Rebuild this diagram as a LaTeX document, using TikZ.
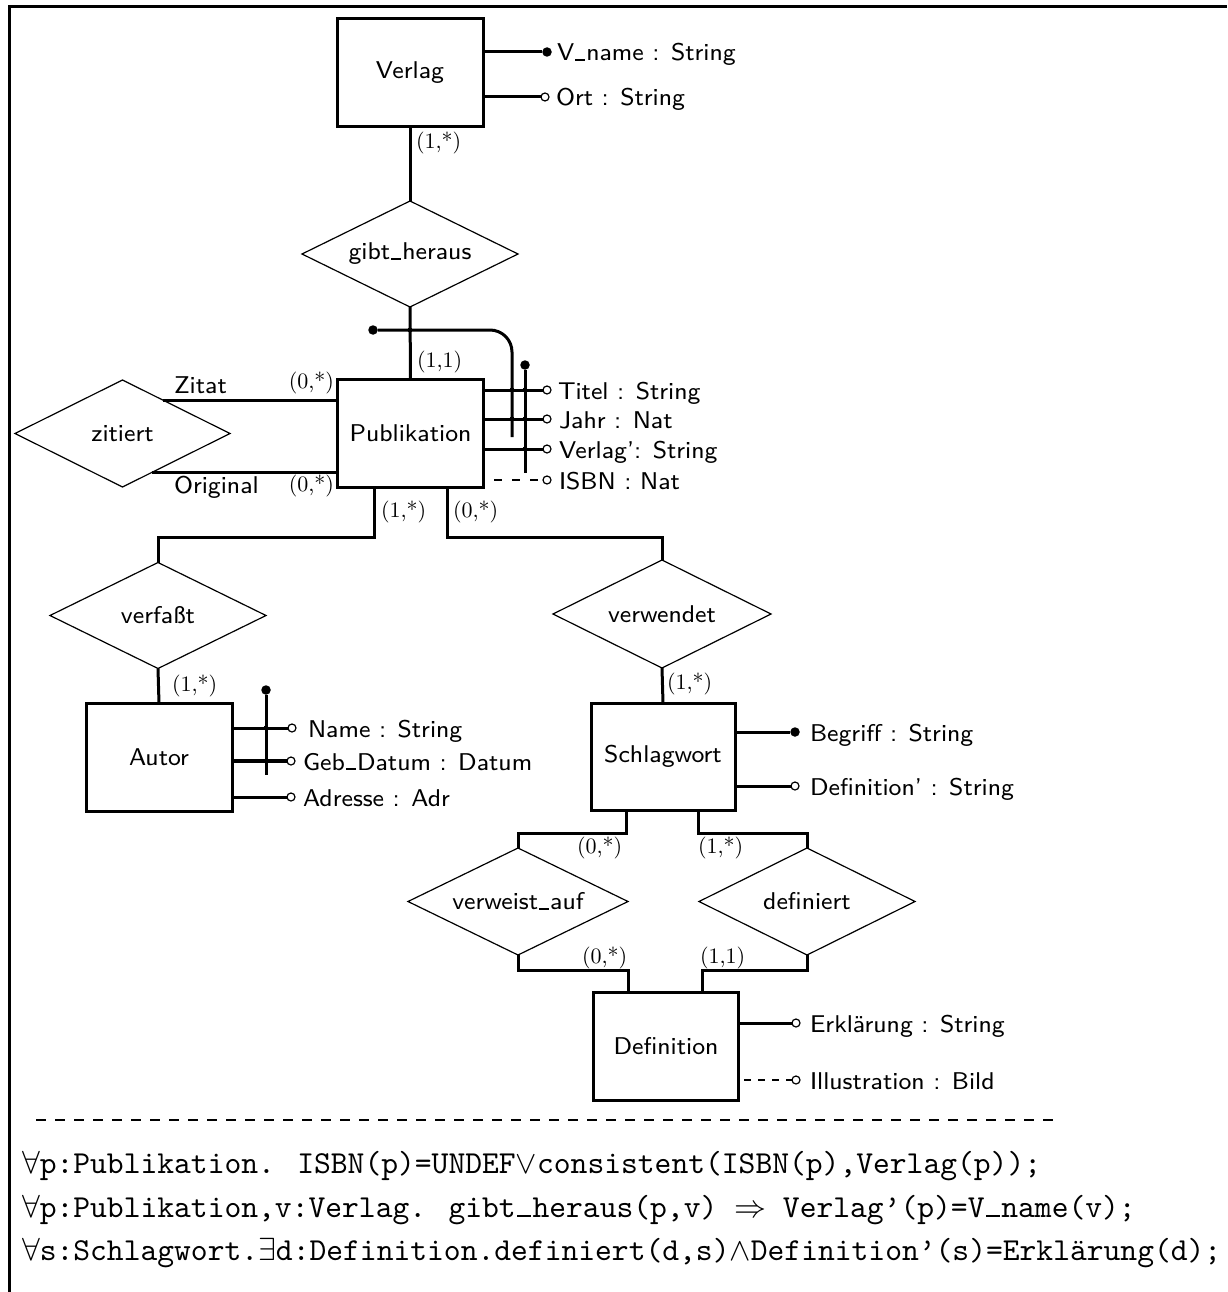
\documentclass[tikz,border=0pt]{standalone}
\usepackage{graphicx}
\usetikzlibrary{shapes.geometric,calc}
\newcommand\sstx[1]{\scalebox{3.03}{\fontsize{8}{9.6}\selectfont\sffamily #1}}
\newcommand\cdtx[1]{\scalebox{2.2}{\fontsize{10}{12}\selectfont\rmfamily #1}}
\newcommand\tttx[1]{\scalebox{3.2}{\fontsize{10}{12}\selectfont\ttfamily #1}}
\newcommand\usc{\leavevmode\kern.04em\rule{.42em}{.6pt}\kern.04em}
\newcommand\tusc{\makebox[.525em]{\rule{.42em}{.55pt}}}
\tikzset{
  every node/.style={outer sep=0pt},
  entity/.style={draw,line width=3pt,rectangle,minimum width=146pt,minimum height=108pt,inner sep=0pt},
  rel/.style={draw,shape=diamond,aspect=2,line width=1.2pt,inner sep=0pt,minimum width=216pt,minimum height=107pt},
  conn/.style={line width=3pt},
  card/.style={inner sep=0pt,anchor=west},
  attr/.style={inner sep=0pt,anchor=base west},
  keydot/.style={fill=black,circle,inner sep=0pt,minimum size=9.5pt},
  optdot/.style={draw,fill=white,circle,inner sep=0pt,minimum size=8pt,line width=1.2pt},
  jdot/.style={fill=black,circle,inner sep=0pt,minimum size=5pt},
  optline/.style={line width=2pt,dash pattern=on 8pt off 10pt},
  formula/.style={inner sep=0pt,anchor=base west},
}
\begin{document}
\begin{tikzpicture}[x=1pt,y=-1pt]
\useasboundingbox (0,0) rectangle (1227,1292);
% frame
\draw[line width=3pt] (9.5,1292) -- (9.5,6.7) -- (1227,6.7);

% entities
\node[entity] (Verlag) at (410,72.5) {\sstx{Verlag}};
\node[entity] (Publikation) at (410.5,433.5) {\sstx{Publikation}};
\node[entity] (Autor) at (159,757.5) {\sstx{Autor}};
\node[entity,minimum width=144pt,minimum height=107pt] (Schlagwort) at (663,756.5) {\sstx{Schlagwort}};
\node[entity,minimum width=145pt] (Definition) at (666,1046) {\sstx{Definition}};

% relationships
\node[rel,minimum height=106pt] (gibt) at (410,254) {\sstx{gibt\usc heraus}};
\node[rel,minimum width=215pt] (zitiert) at (122.5,433.5) {\sstx{zitiert}};
\node[rel,minimum height=106pt] (verfasst) at (158,615.5) {\sstx{verfaßt}};
\node[rel,minimum width=218pt,minimum height=108pt] (verwendet) at (662,614) {\sstx{verwendet}};
\node[rel,minimum width=220pt] (verweist) at (518,901.5) {\sstx{verweist\usc auf}};
\node[rel] (definiert) at (807,901.5) {\sstx{definiert}};

% connectors
\draw[conn] (Verlag.south) -- (gibt.north);
\draw[conn] (gibt.south) -- (Publikation.north);
\coordinate (zt) at ($(zitiert.north)!0.38!(zitiert.east)$);
\coordinate (zo) at ($(zitiert.south)!0.27!(zitiert.east)$);
\draw[conn] (zt) -- (zt -| Publikation.west);
\draw[conn] (zo) -- (zo -| Publikation.west);
\draw[conn] ($(Publikation.south)+(-36.5,0)$) -- ++(0,50) -| (verfasst.north);
\draw[conn] ($(Publikation.south)+(36.5,0)$) -- ++(0,50) -| (verwendet.north);
\draw[conn] (verfasst.south) -- (Autor.north);
\draw[conn] (verwendet.south) -- (Schlagwort.north);
\draw[conn] ($(Schlagwort.south)+(-37,0)$) -- ++(0,23) -| (verweist.north);
\draw[conn] ($(Schlagwort.south)+(35,0)$) -- ++(0,23) -| (definiert.north);
\draw[conn] (verweist.south) -- ++(0,15) -| ($(Definition.north)+(-37.5,0)$);
\draw[conn] (definiert.south) -- ++(0,15) -| ($(Definition.north)+(36,0)$);

% labels
\node[attr] (lzitat) at (174,393) {\sstx{Zitat}};
\node[attr] (lorig) at (174,493) {\sstx{Original}};
\node[card] (c1) at (416,143) {\cdtx{(1,*)}};
\node[card] (c2) at (417,362) {\cdtx{(1,1)}};
\node[card,anchor=east] (c3) at (334,383) {\cdtx{(0,*)}};
\node[card,anchor=east] (c4) at (334,486) {\cdtx{(0,*)}};
\node[card] (c5) at (381,512) {\cdtx{(1,*)}};
\node[card] (c6) at (453,512) {\cdtx{(0,*)}};
\node[card] (c7) at (172,686) {\cdtx{(1,*)}};
\node[card] (c8) at (667,684) {\cdtx{(1,*)}};
\node[card] (c9) at (577,848) {\cdtx{(0,*)}};
\node[card] (c10) at (698,848) {\cdtx{(1,*)}};
\node[card] (c11) at (582,958) {\cdtx{(0,*)}};
\node[card] (c12) at (700,958) {\cdtx{(1,1)}};

% Verlag attributes
\node[keydot] (vn) at (547,52) {};
\node[attr] (vnt) at (557,61) {\sstx{V\usc name : String}};
\draw[conn] (Verlag.east |- vn) -- (vn);
\node[optdot] (ort) at (545,97) {};
\node[attr] (ortt) at (556,106) {\sstx{Ort : String}};
\draw[conn] (Verlag.east |- ort) -- (ort.west);

% Publikation attributes
\node[optdot] (ti) at (547,390) {};
\node[attr] (tit) at (558,399) {\sstx{Titel : String}};
\node[optdot] (ja) at (547,419) {};
\node[attr] (jat) at (559,428) {\sstx{Jahr : Nat}};
\node[optdot] (vs) at (547,449) {};
\node[attr] (vst) at (559,458) {\sstx{Verlag': String}};
\node[optdot] (is) at (547,480) {};
\node[attr] (ist) at (559,489) {\sstx{ISBN : Nat}};
\draw[conn] (Publikation.east |- ti) -- (ti.west);
\draw[conn] (Publikation.east |- ja) -- (ja.west);
\draw[conn] (Publikation.east |- vs) -- (vs.west);
\coordinate (isd) at (494,480);
\draw[optline] (isd) -- (is.west);
% keys of Publikation
\node[keydot] (k1) at (373,330) {};
\coordinate (k1c) at (512,330);
\coordinate (k1e) at (512,437);
\draw[conn,rounded corners=22pt] (k1) -- (k1c) -- (k1e);
\node[keydot] (k2) at (525,365) {};
\coordinate (k2e) at (525,473);
\draw[conn] (k2) -- (k2e);
\foreach \p in {(410,330),(512,390),(512,419),(525,390),(525,419),(525,449)}
  \node[jdot] at \p {};

% Autor attributes
\node[optdot] (na) at (292,728) {};
\node[attr] (nat) at (308,737) {\sstx{Name : String}};
\node[optdot] (gd) at (291,761) {};
\node[attr] (gdt) at (303,770) {\sstx{Geb\usc Datum : Datum}};
\node[optdot] (ad) at (291,797) {};
\node[attr] (adt) at (303,806) {\sstx{Adresse : Adr}};
\draw[conn] (Autor.east |- na) -- (na.west);
\draw[line width=3.4pt] (Autor.east |- gd) -- (gd.west);
\draw[conn] (Autor.east |- ad) -- (ad.west);
\node[keydot] (ka) at (266,690) {};
\coordinate (kae) at (266,775);
\draw[conn] (ka) -- (kae);
\node[jdot] at (266,728) {};
\node[jdot] at (266,761) {};

% Schlagwort attributes
\node[keydot] (be) at (795,732) {};
\node[attr] (bet) at (810,741) {\sstx{Begriff : String}};
\node[optdot] (de) at (795,786) {};
\node[attr] (det) at (810,795) {\sstx{Definition' : String}};
\draw[conn] (Schlagwort.east |- be) -- (be);
\draw[conn] (Schlagwort.east |- de) -- (de.west);

% Definition attributes
\node[optdot] (er) at (796,1023) {};
\node[attr] (ert) at (810,1032) {\sstx{Erklärung : String}};
\node[optdot] (il) at (796,1080) {};
\node[attr] (ilt) at (810,1089) {\sstx{Illustration : Bild}};
\draw[conn] (Definition.east |- er) -- (er.west);
\coordinate (ild) at (744,1080);
\draw[line width=1.5pt,dash pattern=on 7pt off 7pt] (ild) -- (il.west);

% separator
\coordinate (sepa) at (36,1120);
\coordinate (sepb) at (1058,1120);
\draw[line width=1.3pt,dash pattern=on 10pt off 9pt] (sepa) -- (sepb);

% formulas
\node[formula] (f1) at (22,1173) {\tttx{$\forall$p:Publikation. ISBN(p)=UNDEF$\vee$consistent(ISBN(p),Verlag(p));}};
\node[formula] (f2) at (22,1217) {\tttx{$\forall$p:Publikation,v:Verlag. gibt\tusc heraus(p,v) $\Rightarrow$ Verlag’(p)=V\tusc name(v);}};
\node[formula] (f3) at (22,1260) {\tttx{$\forall$s:Schlagwort.$\exists$d:Definition.definiert(d,s)$\wedge$Definition’(s)=Erklärung(d);}};
\end{tikzpicture}
\end{document}
